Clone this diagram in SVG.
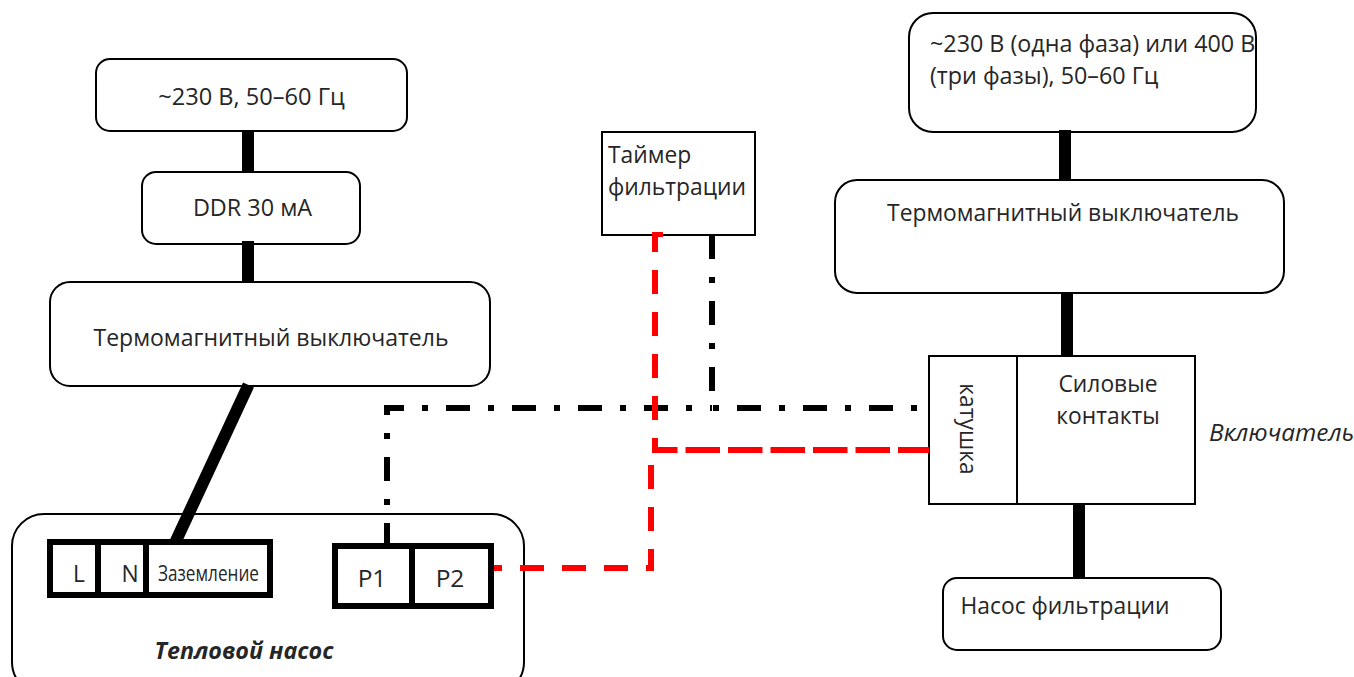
<svg xmlns="http://www.w3.org/2000/svg" width="1354" height="677" viewBox="0 0 1354 677">
<style>
text{font-family:"Open Sans","Noto Sans","Liberation Sans",sans-serif;font-size:22.8px;fill:#262626}
.b{fill:#fff;stroke:#000;stroke-width:2}
.t{fill:#fff;stroke:#000;stroke-width:6}
.s{stroke:#000;stroke-width:12;fill:none}
.k{stroke:#000;stroke-width:6;fill:none;stroke-dasharray:24 18 6 18}
.r{stroke:#f00;stroke-width:6;fill:none;stroke-dasharray:24 18}
</style>
<g id="n4"><rect class="b" x="12" y="514" width="512" height="180" rx="32"/><text x="244" y="659" text-anchor="middle" font-weight="700" font-style="italic" style="font-size:23.300px">Тепловой насос</text></g>
<g id="n1"><rect class="b" x="96" y="59" width="311" height="72" rx="14"/><text x="251.500" y="105" text-anchor="middle" style="font-size:23.600px">~230 В, 50–60 Гц</text></g>
<g id="n2"><rect class="b" x="142" y="172" width="218" height="72" rx="14"/><text x="252.500" y="216" text-anchor="middle" style="font-size:23.400px">DDR 30 мА</text></g>
<g id="n3"><rect class="b" x="50" y="282" width="440" height="104" rx="20"/><text x="271" y="346" text-anchor="middle" style="font-size:23px">Термомагнитный выключатель</text></g>
<g id="n7"><rect class="b" x="602" y="132" width="153" height="103"/><text x="608" y="163">Таймер</text><text x="608" y="195">фильтрации</text></g>
<g id="n8"><rect class="b" x="909" y="13" width="347" height="119" rx="24"/><text x="930" y="52" style="font-size:23.300px">~230 В (одна фаза) или 400 В</text><text x="930" y="84" style="font-size:23.300px">(три фазы), 50–60 Гц</text></g>
<g id="n9"><rect class="b" x="835" y="180" width="449" height="113" rx="22"/><text x="1063" y="221" text-anchor="middle">Термомагнитный выключатель</text></g>
<g id="n10"><rect class="b" x="929" y="356" width="88" height="148"/><text transform="translate(960 429) rotate(90)" text-anchor="middle">катушка</text></g>
<g id="n11"><rect class="b" x="1017" y="356" width="178" height="148"/><text x="1108" y="392" text-anchor="middle">Силовые</text><text x="1108" y="424" text-anchor="middle">контакты</text></g>
<g id="n11b"><text x="1209" y="441" font-style="italic" style="font-size:24.400px">Включатель</text></g>
<g id="n12"><rect class="b" x="943" y="578" width="278" height="72" rx="14"/><text x="1065" y="614" text-anchor="middle">Насос фильтрации</text></g>
<g id="connectors">
<path class="s" d="M248 130V172M248 241V282M1065 130V180M1067 292V356M1079 504V578"/>
<path class="s" d="M248.500 385L174.500 544"/>
<path class="k" d="M387 547V408H712"/>
<path class="k" d="M712 235V408"/>
<path class="k" style="stroke-dasharray:6 18 24 18" d="M713 408H919"/>
<path class="r" style="stroke-dashoffset:4" d="M655 232V452"/>
<path class="r" d="M655 234.500H663" style="stroke-width:5;stroke-dasharray:none"/>
<path class="r" style="stroke-dasharray:34.500 8;stroke-dashoffset:9" d="M652 450H929"/>
<path class="r" d="M478 568H651V464"/>
</g>
<g id="n5"><rect class="t" x="50" y="542" width="220" height="53"/><path class="t" d="M98 542V595M146 542V595"/><text x="79" y="582" text-anchor="middle">L</text><text x="130" y="582" text-anchor="middle">N</text><text x="158" y="581" style="font-size:21px" textLength="101" lengthAdjust="spacingAndGlyphs">Заземление</text></g>
<g id="n6"><rect class="t" x="335" y="546" width="156" height="60"/><path class="t" d="M412 546V606"/><text x="372" y="587" text-anchor="middle" style="font-size:24.500px">P1</text><text x="450" y="587" text-anchor="middle" style="font-size:24.500px">P2</text></g>
</svg>
